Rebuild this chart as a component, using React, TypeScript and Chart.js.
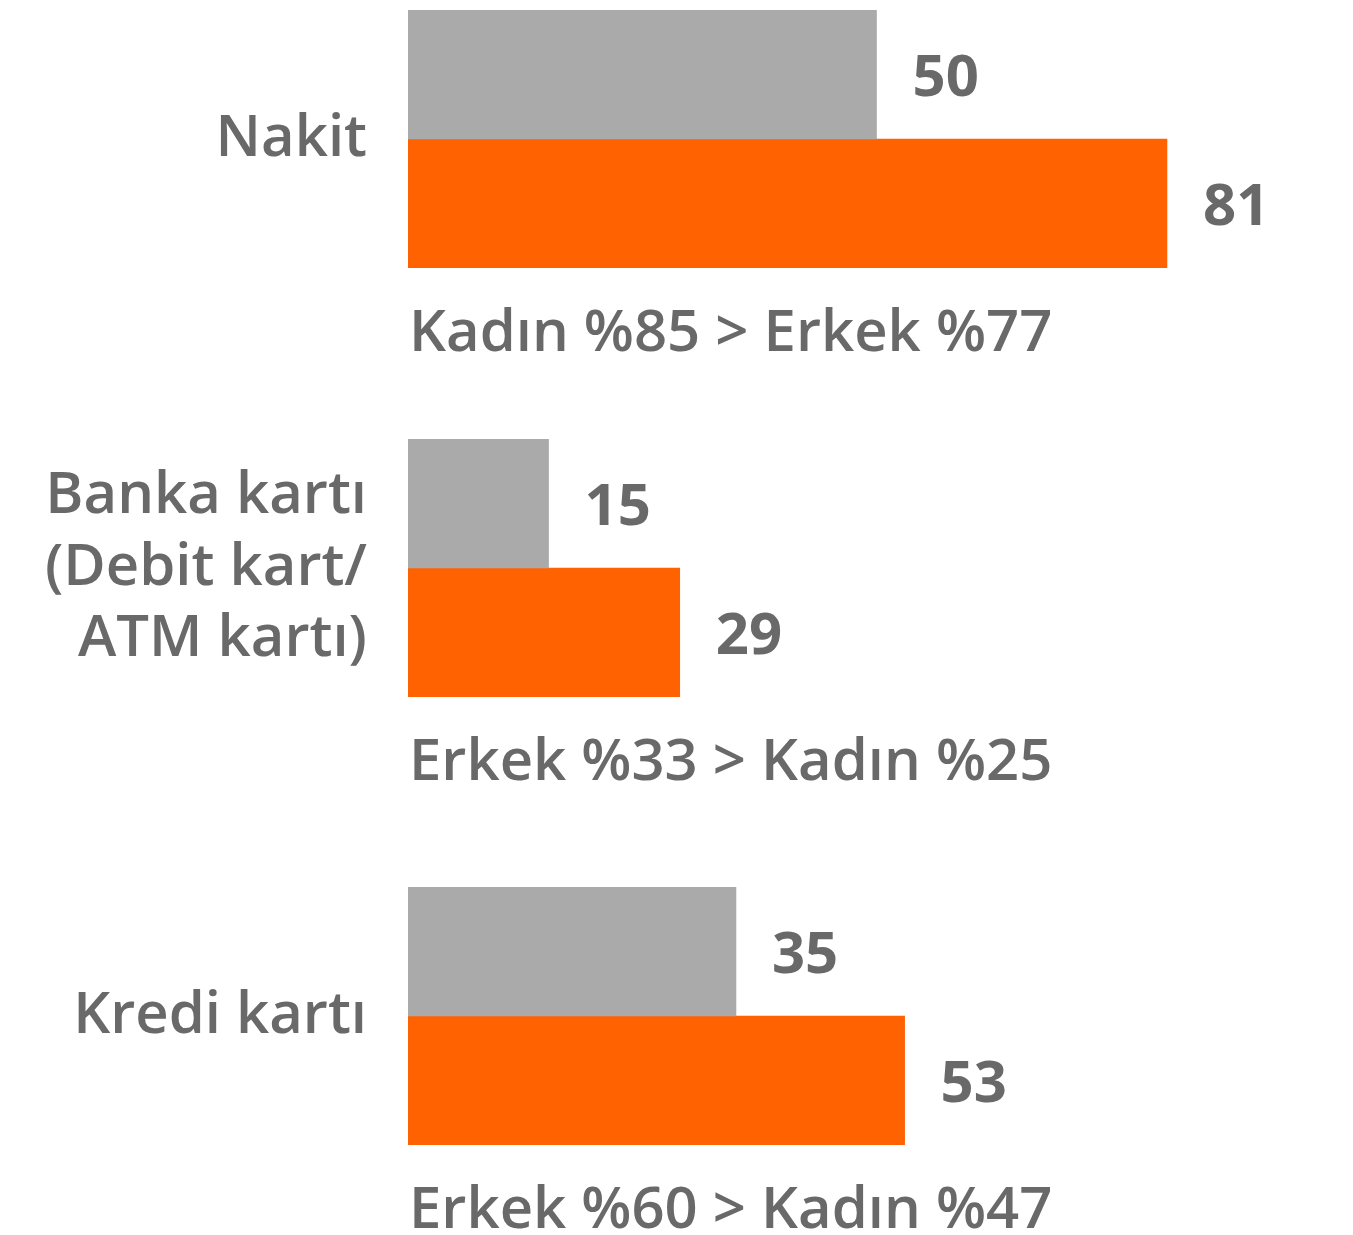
import React, { useEffect, useRef } from "react";
import { Chart, registerables } from "chart.js";

Chart.register(...registerables);

const categories: (string | string[])[] = [
  "Nakit",
  ["Banka kartı", "(Debit kart/", "ATM kartı)"],
  "Kredi kartı",
];
const graySeries = [50, 15, 35];
const orangeSeries = [81, 29, 53];
const notes = [
  "Kadın %85 > Erkek %77",
  "Erkek %33 > Kadın %25",
  "Erkek %60 > Kadın %47",
];

const FONT = "'Open Sans', 'Noto Sans', sans-serif";
const TEXT = "#696969";
const GRAY = "#aaaaaa";
const ORANGE = "#ff6200";

const tops = [10, 439, 887];
const AREA_H = 258;
const PAD_B = 90;

const labelPlugin = {
  id: "labels",
  afterDatasetsDraw(chart: any, _a: any, opts: any) {
    const ctx = chart.ctx;
    ctx.save();
    ctx.fillStyle = TEXT;
    ctx.font = `700 58px ${FONT}`;
    ctx.textAlign = "left";
    ctx.textBaseline = "alphabetic";
    chart.data.datasets.forEach((ds: any, di: number) => {
      const meta = chart.getDatasetMeta(di);
      meta.data.forEach((bar: any, i: number) => {
        const v = ds.data[i];
        ctx.fillText(String(v), bar.x + 36, bar.y + 21);
      });
    });
    ctx.font = `600 58px ${FONT}`;
    ctx.fillText(opts.note, chart.chartArea.left + 1, chart.chartArea.bottom + 83);
    ctx.restore();
  },
};

function Group({ idx }: { idx: number }) {
  const ref = useRef<HTMLCanvasElement>(null);
  useEffect(() => {
    if (!ref.current) return;
    const chart = new Chart(ref.current, {
      type: "bar",
      data: {
        labels: [categories[idx]],
        datasets: [
          { label: "Seri 1", data: [graySeries[idx]], backgroundColor: GRAY, categoryPercentage: 1, barPercentage: 1 },
          { label: "Seri 2", data: [orangeSeries[idx]], backgroundColor: ORANGE, categoryPercentage: 1, barPercentage: 1 },
        ],
      },
      options: {
        indexAxis: "y",
        animation: false,
        responsive: false,
        maintainAspectRatio: false,
        layout: { padding: { top: 0, right: 8, bottom: PAD_B, left: 0 } },
        plugins: {
          legend: { display: false },
          tooltip: { enabled: false },
          labels: { note: notes[idx] },
        } as any,
        scales: {
          x: { display: false, min: 0, max: 100 },
          y: {
            grid: { display: false },
            border: { display: false },
            ticks: {
              color: TEXT,
              padding: 33,
              font: { family: FONT, size: 58, weight: "600", lineHeight: 1.23 },
            },
            afterFit(scale: any) {
              scale.width = 408;
              scale.paddingTop = 0;
              scale.paddingBottom = 0;
            },
          },
        },
      },
      plugins: [labelPlugin],
    });
    return () => chart.destroy();
  }, [idx]);
  return (
    <canvas
      ref={ref}
      width={1353}
      height={AREA_H + PAD_B}
      style={{ position: "absolute", left: 0, top: tops[idx], width: 1353, height: AREA_H + PAD_B }}
    />
  );
}

export default function App() {
  useEffect(() => {
    document.body.style.margin = "0";
  }, []);
  return (
    <div style={{ position: "relative", width: 1353, height: 1235, overflow: "hidden", background: "#fff" }}>
      {categories.map((_, i) => (
        <Group key={i} idx={i} />
      ))}
    </div>
  );
}
